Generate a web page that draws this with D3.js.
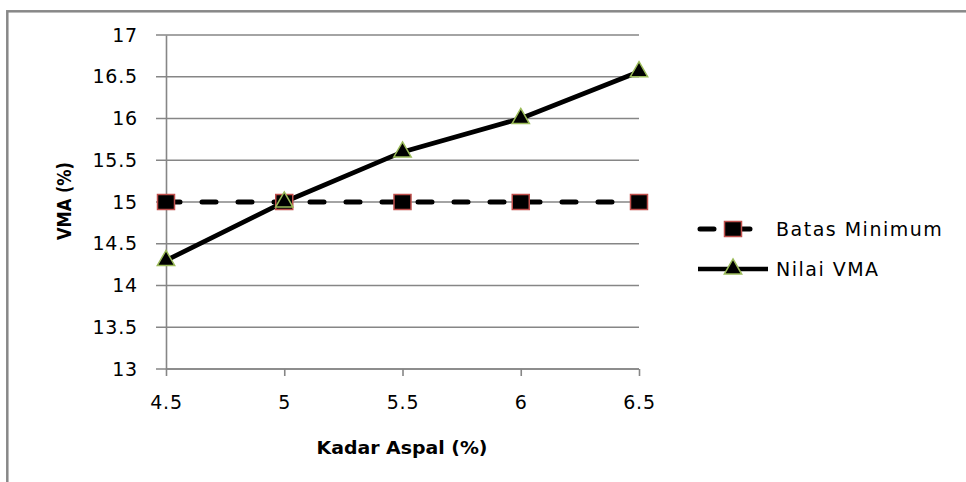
<!DOCTYPE html>
<html>
<head>
<meta charset="utf-8">
<script src="https://cdn.jsdelivr.net/npm/d3@7"></script>
<style>
html,body{margin:0;padding:0;background:#fff;}
svg{display:block;}
text{font-family:"DejaVu Sans",sans-serif;fill:#000;}
</style>
</head>
<body>
<svg id="chart" width="966" height="482"></svg>
<script>
const xValues = [4.5, 5, 5.5, 6, 6.5];
const batasMinimum = [15, 15, 15, 15, 15];
const nilaiVMA = [14.3, 15.0, 15.6, 16.0, 16.56];
const yTicks = [13, 13.5, 14, 14.5, 15, 15.5, 16, 16.5, 17];
const xTicks = [4.5, 5, 5.5, 6, 6.5];
const seriesNames = ["Batas Minimum", "Nilai VMA"];

(function () {
const svg = d3.select("#chart");
const W = 966, H = 482;
const pL = 166, pR = 639, pT = 35, pB = 369;

svg.append("rect").attr("x", 7.3).attr("y", 11.3).attr("width", W + 20).attr("height", H + 20)
  .attr("fill", "#fff").attr("stroke", "#888").attr("stroke-width", 2.5);

const x = d3.scaleLinear().domain([4.5, 6.5]).range([pL, pR]);
const y = d3.scaleLinear().domain([13, 17]).range([pB, pT]);

// gridlines
svg.append("g").selectAll("line").data(yTicks).join("line")
  .attr("x1", pL - 10).attr("x2", pR)
  .attr("y1", d => y(d)).attr("y2", d => y(d))
  .attr("stroke", "#868686").attr("stroke-width", 1.4);

// y axis
const yAxis = svg.append("g").attr("transform", `translate(${pL},0)`)
  .call(d3.axisLeft(y).tickValues(yTicks).tickSize(0).tickPadding(28).tickFormat(d3.format("")));
yAxis.select(".domain").attr("stroke", "#868686").attr("stroke-width", 1.6);
yAxis.selectAll("text").style("font-size", "19px").style("letter-spacing", "0.8px")
  .style("font-family", "DejaVu Sans").attr("fill", "#000");

// x axis
const xAxis = svg.append("g").attr("transform", `translate(0,${pB})`)
  .call(d3.axisBottom(x).tickValues(xTicks).tickSize(7).tickPadding(20).tickFormat(d3.format("")));
xAxis.select(".domain").attr("stroke", "#868686").attr("stroke-width", 1.6).attr("d", `M${pL},0H${pR}`);
xAxis.selectAll(".tick line").attr("stroke", "#868686").attr("stroke-width", 1.6);
xAxis.selectAll("text").style("font-size", "19px").style("letter-spacing", "0.8px")
  .style("font-family", "DejaVu Sans").attr("fill", "#000");

// axis titles
svg.append("text").attr("transform", `translate(64,201) rotate(-90)`)
  .attr("text-anchor", "middle").attr("dy", "0.35em").style("font-size", "19px").style("font-weight", "bold")
  .attr("textLength", 78).attr("lengthAdjust", "spacingAndGlyphs")
  .text("VMA (%)");
svg.append("text").attr("x", 402).attr("y", 448).attr("dy", "0.35em")
  .attr("text-anchor", "middle").style("font-size", "18px").style("font-weight", "bold")
  .attr("textLength", 171).attr("lengthAdjust", "spacingAndGlyphs")
  .text("Kadar Aspal (%)");

const line = d3.line().x((d, i) => x(xValues[i])).y(d => y(d));

// Batas Minimum dashed
svg.append("path").datum(batasMinimum).attr("d", line)
  .attr("fill", "none").attr("stroke", "#000").attr("stroke-width", 5)
  .attr("stroke-dasharray", "14,22").attr("stroke-linecap", "round");

// Nilai VMA solid
svg.append("path").datum(nilaiVMA).attr("d", line)
  .attr("fill", "none").attr("stroke", "#000").attr("stroke-width", 4.7);

const sq = 17;
function square(g, cx, cy) {
  g.append("rect").attr("x", cx - sq / 2).attr("y", cy - 7.5).attr("width", sq).attr("height", 15)
    .attr("fill", "#000").attr("stroke", "#C0504D").attr("stroke-width", 1.5);
}
const tri = d3.symbol().type(d3.symbolTriangle).size(130);
function triangle(g, cx, cy) {
  g.append("path").attr("d", tri).attr("transform", `translate(${cx},${cy})`)
    .attr("fill", "#000").attr("stroke", "#9BBB59").attr("stroke-width", 1.5);
}

const mk = svg.append("g");
batasMinimum.forEach((v, i) => square(mk, x(xValues[i]), y(v)));
nilaiVMA.forEach((v, i) => triangle(mk, x(xValues[i]), y(v)));

// legend
const lg = svg.append("g");
const lgY = [229, 269];
lg.append("line").attr("x1", 700).attr("x2", 766).attr("y1", lgY[0]).attr("y2", lgY[0])
  .attr("stroke", "#000").attr("stroke-width", 5).attr("stroke-dasharray", "14,22").attr("stroke-linecap", "round");
square(lg, 733, lgY[0]);
lg.append("line").attr("x1", 698).attr("x2", 768).attr("y1", lgY[1]).attr("y2", lgY[1])
  .attr("stroke", "#000").attr("stroke-width", 4.7);
triangle(lg, 733, lgY[1]);
seriesNames.forEach((n, i) => {
  lg.append("text").attr("x", 776).attr("y", lgY[i]).attr("dy", "0.35em")
    .style("font-size", "19px").style("letter-spacing", "1.5px").text(n);
});
})();
</script>
</body>
</html>
